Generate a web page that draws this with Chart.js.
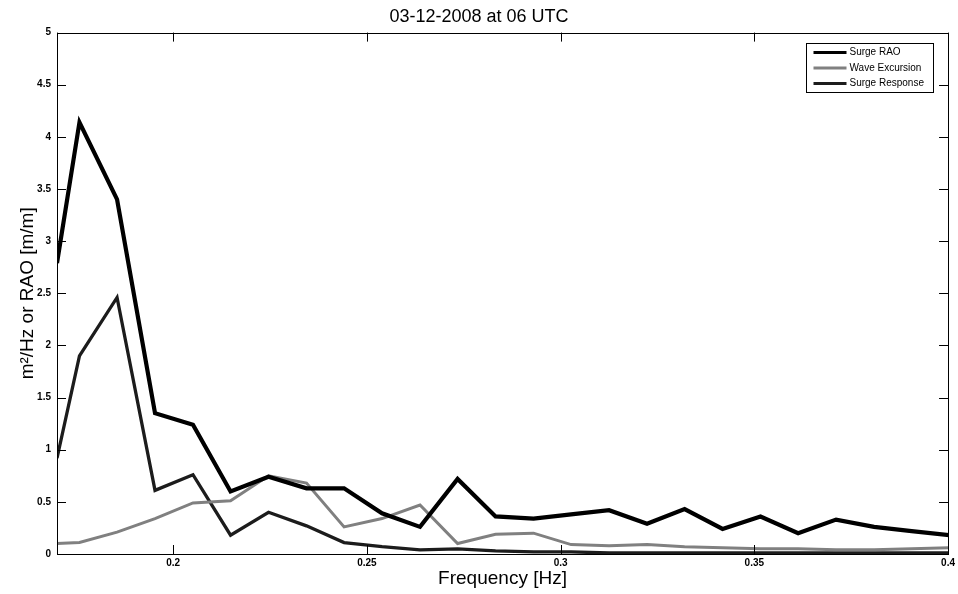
<!DOCTYPE html>
<html>
<head>
<meta charset="utf-8">
<script src="https://cdn.jsdelivr.net/npm/chart.js@4/dist/chart.umd.min.js"></script>
<style>
  body { margin: 0; background: #fff; }
  #wrap { width: 958px; height: 594px; }
</style>
</head>
<body>
<div id="wrap"><canvas id="surgeChart" width="958" height="594"></canvas></div>
<script>
// --- Data ---
const freqHz = [0.17, 0.1758, 0.1855, 0.1953, 0.2051, 0.2148, 0.2246, 0.2344, 0.2441, 0.2539,
  0.2637, 0.2734, 0.2832, 0.293, 0.3027, 0.3125, 0.3223, 0.332, 0.3418, 0.3516,
  0.3613, 0.3711, 0.3809, 0.3906, 0.4004];

const surgeRAO = [2.79, 4.14, 3.40, 1.35, 1.24, 0.60, 0.74, 0.63, 0.63, 0.39,
  0.26, 0.72, 0.36, 0.34, 0.38, 0.42, 0.29, 0.43, 0.24, 0.36,
  0.20, 0.33, 0.26, 0.22, 0.18];

const waveExcursion = [0.10, 0.11, 0.21, 0.34, 0.49, 0.51, 0.75, 0.68, 0.26, 0.34,
  0.47, 0.10, 0.19, 0.20, 0.09, 0.08, 0.09, 0.07, 0.06, 0.05,
  0.05, 0.04, 0.04, 0.05, 0.06];

const surgeResponse = [0.92, 1.90, 2.46, 0.61, 0.76, 0.18, 0.40, 0.27, 0.11, 0.07,
  0.04, 0.05, 0.03, 0.02, 0.02, 0.01, 0.01, 0.01, 0.01, 0.01,
  0.01, 0.01, 0.01, 0.01, 0.01];

const xTicks = [0.17, 0.2, 0.25, 0.3, 0.35, 0.4];
const xTickLabels = ["", "0.2", "0.25", "0.3", "0.35", "0.4"];
const yTicks = [0, 0.5, 1, 1.5, 2, 2.5, 3, 3.5, 4, 4.5, 5];

const FONT = "'Liberation Sans', Arial, Helvetica, sans-serif";

function toPoints(vals) {
  return vals.map((v, i) => ({ x: freqHz[i], y: v }));
}

// --- MATLAB style box with inward ticks on all sides ---
const axesBox = {
  id: "axesBox",
  afterDatasetsDraw(chart) {
    const { ctx, chartArea: a, scales } = chart;
    const len = 9;
    ctx.save();
    ctx.strokeStyle = "#000";
    ctx.lineWidth = 1;
    ctx.beginPath();
    for (const v of xTicks) {
      const px = Math.round(scales.x.getPixelForValue(v)) + 0.5;
      ctx.moveTo(px, a.bottom); ctx.lineTo(px, a.bottom - len);
      ctx.moveTo(px, a.top); ctx.lineTo(px, a.top + len);
    }
    for (const v of yTicks) {
      const py = Math.round(scales.y.getPixelForValue(v)) + 0.5;
      ctx.moveTo(a.left, py); ctx.lineTo(a.left + len, py);
      ctx.moveTo(a.right, py); ctx.lineTo(a.right - len, py);
    }
    ctx.stroke();
    ctx.strokeRect(Math.round(a.left) + 0.5, Math.round(a.top) + 0.5,
      Math.round(a.right - a.left), Math.round(a.bottom - a.top));
    ctx.restore();
  }
};

// --- legend box in the upper right corner ---
const legendBox = {
  id: "legendBox",
  afterDraw(chart) {
    const { ctx, chartArea: a } = chart;
    const bx = Math.round(a.right - 142) + 0.5, by = Math.round(a.top + 10) + 0.5;
    ctx.save();
    ctx.fillStyle = "#fff";
    ctx.fillRect(bx, by, 127, 49);
    ctx.strokeStyle = "#000";
    ctx.lineWidth = 1;
    ctx.strokeRect(bx, by, 127, 49);
    ctx.font = "10px " + FONT;
    ctx.textBaseline = "middle";
    chart.data.datasets.forEach((ds, i) => {
      const ry = by + 9 + i * 15.5;
      ctx.strokeStyle = ds.borderColor;
      ctx.lineWidth = 3;
      ctx.beginPath();
      ctx.moveTo(bx + 7, ry);
      ctx.lineTo(bx + 40, ry);
      ctx.stroke();
      ctx.fillStyle = "#000";
      ctx.fillText(ds.label, bx + 43, ry);
    });
    ctx.restore();
  }
};

new Chart(document.getElementById("surgeChart"), {
  type: "line",
  data: {
    datasets: [
      { label: "Surge RAO", data: toPoints(surgeRAO), borderColor: "#000", borderWidth: 4.2 },
      { label: "Wave Excursion", data: toPoints(waveExcursion), borderColor: "#808080", borderWidth: 3 },
      { label: "Surge Response", data: toPoints(surgeResponse), borderColor: "#1c1c1c", borderWidth: 3.3 }
    ]
  },
  options: {
    responsive: false,
    animation: false,
    parsing: false,
    elements: { point: { radius: 0 }, line: { tension: 0, borderJoinStyle: "miter" } },
    layout: { padding: { left: 0, right: 0, top: 0, bottom: 0 } },
    plugins: {
      legend: { display: false },
      tooltip: { enabled: false },
      title: {
        display: true,
        text: "03-12-2008 at 06 UTC",
        color: "#000",
        font: { family: FONT, size: 18, weight: "normal" },
        padding: { top: 6, bottom: 5 }
      }
    },
    scales: {
      x: {
        type: "linear",
        min: 0.17,
        max: 0.4,
        afterBuildTicks: s => { s.ticks = xTicks.map(v => ({ value: v })); },
        afterFit: s => { s.height = 40; },
        grid: { display: false, drawTicks: false },
        border: { display: false },
        ticks: {
          color: "#000",
          padding: 3,
          maxRotation: 0,
          autoSkip: false,
          font: { family: FONT, size: 10, weight: "bold" },
          callback: (v, i) => xTickLabels[i]
        },
        title: {
          display: true,
          text: "Frequency [Hz]",
          color: "#000",
          font: { family: FONT, size: 19 },
          padding: { top: 0, bottom: 4 }
        }
      },
      y: {
        min: 0,
        max: 5,
        afterBuildTicks: s => { s.ticks = yTicks.map(v => ({ value: v })); },
        afterFit: s => { s.width = 57; },
        grid: { display: false, drawTicks: false },
        border: { display: false },
        ticks: {
          color: "#000",
          padding: 6,
          font: { family: FONT, size: 10, weight: "bold" },
          callback: v => String(v)
        },
        title: {
          display: true,
          text: "m\u00B2/Hz or RAO [m/m]",
          color: "#000",
          font: { family: FONT, size: 19 },
          padding: { top: 16, bottom: 0 }
        }
      }
    }
  },
  plugins: [axesBox, legendBox]
});
</script>
</body>
</html>
